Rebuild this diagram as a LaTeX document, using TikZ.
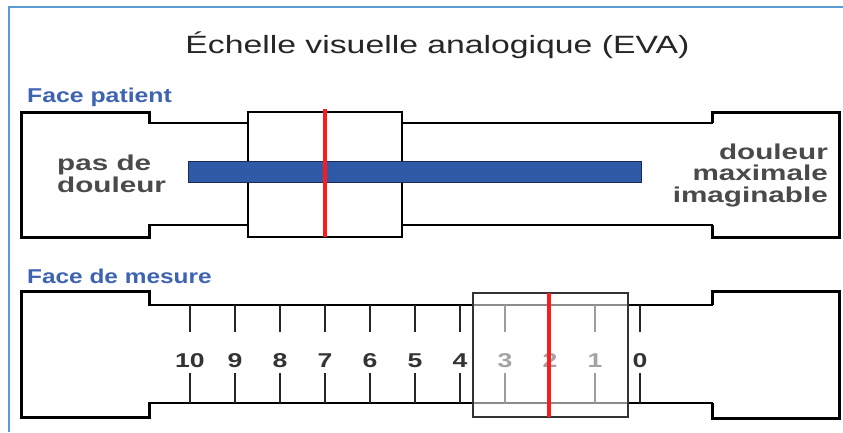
\documentclass[tikz,border=0pt]{standalone}
\usepackage{fontspec}
\setmainfont{Liberation Sans}
\usepackage{graphicx}
\definecolor{framebl}{HTML}{5B9BD5}
\definecolor{headbl}{HTML}{3E63B3}
\definecolor{barbl}{HTML}{2E5AA7}
\definecolor{bardk}{HTML}{1A2A55}
\definecolor{txtg}{HTML}{4A4A4A}
\definecolor{numg}{HTML}{333333}
\definecolor{redl}{HTML}{FF1A1A}
\newcommand{\hstr}[2]{\scalebox{#1}[1]{#2}}
\tikzset{
  ttl/.style={inner sep=0, anchor=base, text=black!85, font=\fontsize{25}{30}\selectfont},
  facehead/.style={inner sep=0, anchor=base west, text=headbl, font=\fontsize{20}{24}\selectfont\bfseries},
  sidetxt/.style={inner sep=0, text=txtg, font=\fontsize{21.5}{24}\selectfont\bfseries},
  numtxt/.style={inner sep=0, anchor=base, text=numg, font=\fontsize{20}{24}\selectfont\bfseries},
  body/.style={draw=black, line width=2.2pt, line join=miter},
  endblock/.style={draw=black, line width=3pt},
  tickln/.style={draw=black!85, line width=2.2pt},
  redline/.style={draw=redl, line width=3.5pt},
}
\begin{document}
\begin{tikzpicture}[x=1pt, y=-1pt]
\useasboundingbox (0,0) rectangle (843,432);
\fill[white] (0,0) rectangle (843,432);
% frame
\draw[framebl, line width=2pt] (9,432) -- (9,7) -- (843,7);
% title
\node[ttl] (title) at (437.5,53) {\hstr{1.35}{Échelle visuelle analogique (EVA)}};
% ===== Face patient =====
\node[facehead] (fp) at (27,102) {\hstr{1.24}{Face patient}};
\draw[body] (21,112) -- (149,112) -- (149,123) -- (712,123) -- (712,112) -- (839,112)
  -- (839,237) -- (712,237) -- (712,225) -- (149,225) -- (149,237) -- (21,237) -- cycle;
\draw[endblock] (149,123) -- (149,112) -- (21,112) -- (21,237) -- (149,237) -- (149,225);
\draw[endblock] (712,123) -- (712,112) -- (839,112) -- (839,237) -- (712,237) -- (712,225);
\draw[fill=white, draw=black, line width=2.5pt] (248,112) rectangle (402,237);
\draw[fill=barbl, draw=bardk, line width=1pt] (188,161) rectangle (641,182);
\draw[redline] (325,109) -- (325,237);
\node[sidetxt, anchor=base west] (pd1) at (57,170) {\hstr{1.38}{pas de}};
\node[sidetxt, anchor=base west] (pd2) at (57,192) {\hstr{1.38}{douleur}};
\node[sidetxt, anchor=base east] (dm1) at (828,159) {\hstr{1.38}{douleur}};
\node[sidetxt, anchor=base east] (dm2) at (828,180.5) {\hstr{1.38}{maximale}};
\node[sidetxt, anchor=base east] (dm3) at (828,202) {\hstr{1.38}{imaginable}};
% ===== Face de mesure =====
\node[facehead] (fm) at (27,283) {\hstr{1.22}{Face de mesure}};
\draw[body] (21,291) -- (149,291) -- (149,305) -- (712,305) -- (712,291) -- (839,291)
  -- (839,418) -- (712,418) -- (712,403) -- (149,403) -- (149,417) -- (21,417) -- cycle;
\draw[endblock] (149,305) -- (149,291) -- (21,291) -- (21,417) -- (149,417) -- (149,403);
\draw[endblock] (712,305) -- (712,291) -- (839,291) -- (839,418) -- (712,418) -- (712,403);
\foreach \k in {0,...,10} {
  \pgfmathsetmacro{\xx}{190+45*(10-\k)}
  \draw[tickln] (\xx,305) -- (\xx,332);
  \draw[tickln] (\xx,373) -- (\xx,403);
  \node[numtxt] (n\k) at (\xx,367) {\hstr{1.33}{\k}};
}
\draw[fill=white, fill opacity=0.55, draw=black!80, line width=1.5pt] (473,293) rectangle (628,417);
\draw[redline] (549,293) -- (549,417);
\end{tikzpicture}
\end{document}
